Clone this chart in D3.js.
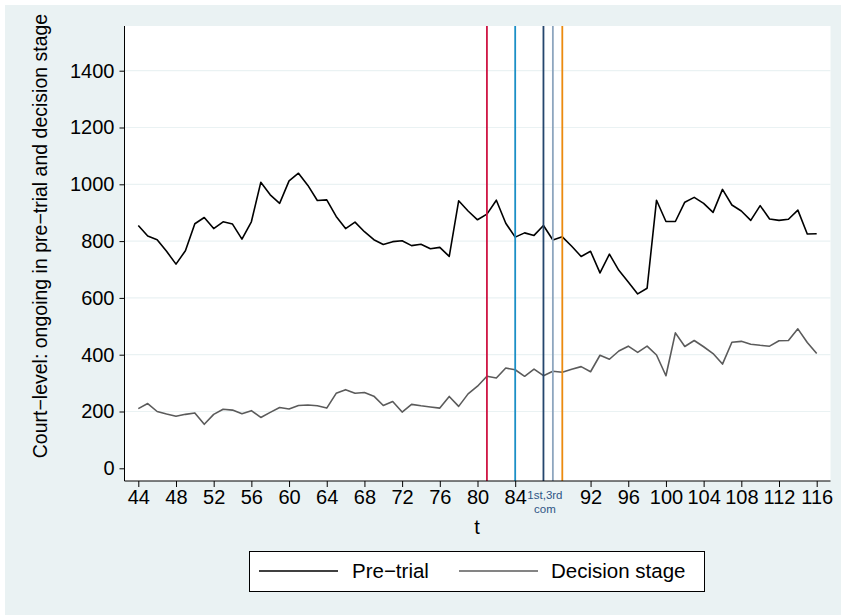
<!DOCTYPE html>
<html>
<head>
<meta charset="utf-8">
<script src="https://cdn.jsdelivr.net/npm/d3@7"></script>
<style>
  html, body { margin: 0; padding: 0; background: #ffffff; }
  svg { display: block; font-family: "Liberation Sans", Arial, sans-serif; }
</style>
</head>
<body>
<svg id="chart" width="841" height="615"></svg>
<script>
// Time index (t = 44 ... 116)
const periods = d3.range(44, 117);

// Court-level counts of ongoing cases
const preTrial = [
  855, 818, 805, 764, 719, 766, 861, 883, 844, 868,
  860, 807, 868, 1007, 963, 933, 1012, 1039, 996, 943,
  945, 887, 844, 867, 833, 805, 788, 798, 801, 784,
  789, 773, 778, 746, 942, 906, 875, 895, 944, 863,
  814, 829, 820, 855, 804, 815, 782, 746, 764, 688,
  754, 697, 656, 614, 634, 944, 869, 869, 937, 954,
  933, 901, 982, 927, 906, 873, 925, 878, 873, 877,
  909, 825, 826
];
const decisionStage = [
  210, 228, 200, 191, 183, 190, 195, 155, 190, 208,
  205, 192, 203, 179, 197, 214, 209, 221, 223, 220,
  212, 264, 277, 264, 267, 254, 221, 235, 198, 225,
  220, 216, 212, 253, 218, 262, 289, 324, 318, 353,
  347, 324, 349, 326, 342, 338, 349, 358, 340, 398,
  384, 413, 430, 408, 430, 399, 326, 477, 429, 450,
  428, 404, 367, 444, 447, 437, 433, 430, 449, 450,
  491, 443, 404
];

// Axis ticks
const xTicks = [44, 48, 52, 56, 60, 64, 68, 72, 76, 80, 84, 92, 96, 100, 104, 108, 112, 116];
const yTicks = [0, 200, 400, 600, 800, 1000, 1200, 1400];
const yGrid = [200, 400, 600, 800, 1000, 1200, 1400];

// Event markers
const eventPeriods = [81, 84, 87, 88, 89];
const eventColors = ["#cf1443", "#1b8fc6", "#25466e", "#8ea6bf", "#ec8a0f"];
const eventLabel = { t: 87, lines: ["1st,3rd", "com"] };

const seriesNames = ["Pre\u2212trial", "Decision stage"];
const seriesColors = ["#000000", "#5b5b5b"];

const svg = d3.select("#chart");
const W = 841, H = 615;

// Outer graph region
svg.append("rect").attr("x", 5).attr("y", 5).attr("width", W - 5).attr("height", H - 5)
  .attr("fill", "#eaf2f3");

const plot = { left: 124.5, right: 830.5, top: 26, bottom: 481 };
svg.append("rect")
  .attr("x", plot.left).attr("y", plot.top)
  .attr("width", plot.right - plot.left).attr("height", plot.bottom - plot.top)
  .attr("fill", "#ffffff");

const x = d3.scaleLinear().domain([44, 116]).range([138.3, 816.7]);
const y = d3.scaleLinear().domain([0, 1400]).range([468.3, 70.7]);

// Gridlines
svg.append("g").selectAll("line").data(yGrid).join("line")
  .attr("x1", plot.left).attr("x2", plot.right)
  .attr("y1", d => y(d)).attr("y2", d => y(d))
  .attr("stroke", "#eaf2f3").attr("stroke-width", 1.2);

// Series lines
const line = d3.line().x((d, i) => x(periods[i])).y(d => y(d));
[preTrial, decisionStage].forEach((s, k) => {
  svg.append("path").datum(s)
    .attr("d", line)
    .attr("fill", "none")
    .attr("stroke", seriesColors[k])
    .attr("stroke-width", 1.6)
    .attr("stroke-linejoin", "round");
});

// Event vertical lines
svg.append("g").selectAll("line").data(eventPeriods).join("line")
  .attr("x1", d => x(d)).attr("x2", d => x(d))
  .attr("y1", plot.top).attr("y2", plot.bottom)
  .attr("stroke", (d, i) => eventColors[i]).attr("stroke-width", 1.8);

// Y axis
const yAxis = d3.axisLeft(y).tickValues(yTicks).tickSize(5).tickPadding(5).tickFormat(d3.format("d"));
const gy = svg.append("g").attr("transform", `translate(${plot.left},0)`).call(yAxis);
gy.select(".domain").remove();
gy.append("line").attr("x1", 0).attr("x2", 0).attr("y1", plot.top).attr("y2", plot.bottom)
  .attr("stroke", "#000").attr("stroke-width", 1);
gy.selectAll(".tick line").attr("stroke", "#000");
gy.selectAll(".tick text").attr("font-size", 20).attr("fill", "#000")
  .attr("font-family", "Liberation Sans, Arial, sans-serif");

// X axis
const xAxis = d3.axisBottom(x).tickValues(xTicks).tickSize(6).tickPadding(3).tickFormat(d3.format("d"));
const gx = svg.append("g").attr("transform", `translate(0,${plot.bottom})`).call(xAxis);
gx.select(".domain").remove();
gx.append("line").attr("x1", plot.left).attr("x2", plot.right).attr("y1", 0).attr("y2", 0)
  .attr("stroke", "#000").attr("stroke-width", 1);
gx.selectAll(".tick line").attr("stroke", "#000");
gx.selectAll(".tick text").attr("font-size", 20).attr("fill", "#000")
  .attr("font-family", "Liberation Sans, Arial, sans-serif");

// Event label on the x axis, two short lines under the marker
const lblX = x(eventLabel.t) + 1.5;
svg.append("g").selectAll("text").data(eventLabel.lines).join("text")
  .attr("x", lblX).attr("y", (d, i) => plot.bottom + 18 + i * 13.5)
  .attr("text-anchor", "middle").attr("font-size", 11.5).attr("fill", "#2f5585")
  .text(d => d);

// Axis titles
svg.append("text").attr("x", 477).attr("y", 534).attr("text-anchor", "middle")
  .attr("font-size", 20).text("t");
svg.append("text")
  .attr("transform", "translate(47,236) rotate(-90)")
  .attr("text-anchor", "middle").attr("font-size", 19.5)
  .text("Court\u2212level: ongoing in pre\u2212trial and decision stage");

// Legend
const lg = svg.append("g");
lg.append("rect").attr("x", 249.5).attr("y", 551.5).attr("width", 455).attr("height", 40)
  .attr("fill", "#ffffff").attr("stroke", "#000").attr("stroke-width", 1);
const legendItems = [
  { x1: 259, x2: 338, tx: 352 },
  { x1: 459, x2: 538, tx: 551 }
];
legendItems.forEach((it, k) => {
  lg.append("line").attr("x1", it.x1).attr("x2", it.x2).attr("y1", 571).attr("y2", 571)
    .attr("stroke", seriesColors[k]).attr("stroke-width", 1.6);
  lg.append("text").attr("x", it.tx).attr("y", 578).attr("font-size", 20.5).text(seriesNames[k]);
});
</script>
</body>
</html>
